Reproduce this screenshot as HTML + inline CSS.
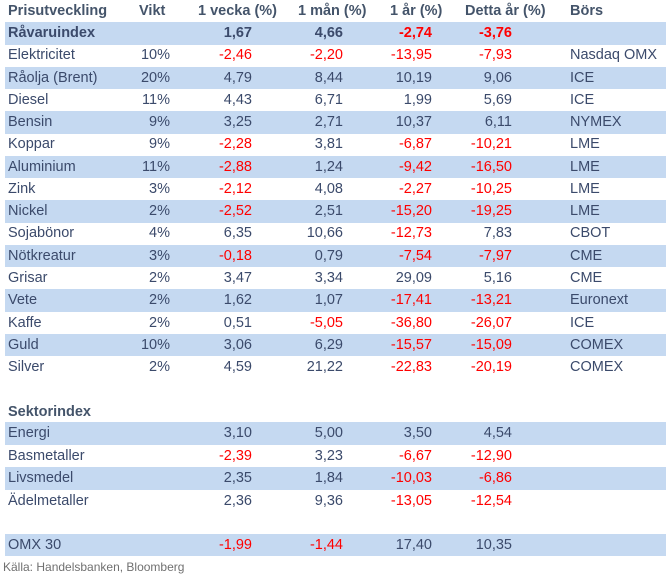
<!DOCTYPE html>
<html><head><meta charset="utf-8"><style>
body{margin:0;width:666px;height:579px;background:#fff;position:relative;overflow:hidden;font-family:"Liberation Sans",sans-serif;font-size:14.5px;color:#3b4a6b}
.r{position:absolute;left:5px;width:661px;height:22.5px;line-height:22px}
.b{background:#c5d9f1}
.r span{position:absolute;top:0;white-space:nowrap}
.n{left:3px}.w{right:496px}.v{right:414px}.m{right:323px}.y{right:234px}.d{right:154px}.x{left:565px}
.h{font-weight:bold;color:#44546a}
.h span{font-weight:bold}
.t{font-weight:bold}
.red{color:#ff0000}
.src{position:absolute;left:3px;top:560px;font-size:12px;color:#707070}
</style></head><body>
<div class="r h" style="top:0"><span class="n">Prisutveckling</span><span style="left:134px">Vikt</span><span style="left:193px">1 vecka (%)</span><span style="left:293px">1 mån (%)</span><span style="left:385px">1 år (%)</span><span style="left:460px">Detta år (%)</span><span class="x">Börs</span></div>
<div class="r b t" style="top:22px"><span class="n">Råvaruindex</span><span class="v">1,67</span><span class="m">4,66</span><span class="y red">-2,74</span><span class="d red">-3,76</span></div>
<div class="r" style="top:44.3px"><span class="n">Elektricitet</span><span class="w">10%</span><span class="v red">-2,46</span><span class="m red">-2,20</span><span class="y red">-13,95</span><span class="d red">-7,93</span><span class="x">Nasdaq OMX</span></div>
<div class="r b" style="top:66.5px"><span class="n">Råolja (Brent)</span><span class="w">20%</span><span class="v">4,79</span><span class="m">8,44</span><span class="y">10,19</span><span class="d">9,06</span><span class="x">ICE</span></div>
<div class="r" style="top:88.8px"><span class="n">Diesel</span><span class="w">11%</span><span class="v">4,43</span><span class="m">6,71</span><span class="y">1,99</span><span class="d">5,69</span><span class="x">ICE</span></div>
<div class="r b" style="top:111.1px"><span class="n">Bensin</span><span class="w">9%</span><span class="v">3,25</span><span class="m">2,71</span><span class="y">10,37</span><span class="d">6,11</span><span class="x">NYMEX</span></div>
<div class="r" style="top:133.4px"><span class="n">Koppar</span><span class="w">9%</span><span class="v red">-2,28</span><span class="m">3,81</span><span class="y red">-6,87</span><span class="d red">-10,21</span><span class="x">LME</span></div>
<div class="r b" style="top:155.6px"><span class="n">Aluminium</span><span class="w">11%</span><span class="v red">-2,88</span><span class="m">1,24</span><span class="y red">-9,42</span><span class="d red">-16,50</span><span class="x">LME</span></div>
<div class="r" style="top:177.9px"><span class="n">Zink</span><span class="w">3%</span><span class="v red">-2,12</span><span class="m">4,08</span><span class="y red">-2,27</span><span class="d red">-10,25</span><span class="x">LME</span></div>
<div class="r b" style="top:200.2px"><span class="n">Nickel</span><span class="w">2%</span><span class="v red">-2,52</span><span class="m">2,51</span><span class="y red">-15,20</span><span class="d red">-19,25</span><span class="x">LME</span></div>
<div class="r" style="top:222.4px"><span class="n">Sojabönor</span><span class="w">4%</span><span class="v">6,35</span><span class="m">10,66</span><span class="y red">-12,73</span><span class="d">7,83</span><span class="x">CBOT</span></div>
<div class="r b" style="top:244.7px"><span class="n">Nötkreatur</span><span class="w">3%</span><span class="v red">-0,18</span><span class="m">0,79</span><span class="y red">-7,54</span><span class="d red">-7,97</span><span class="x">CME</span></div>
<div class="r" style="top:267px"><span class="n">Grisar</span><span class="w">2%</span><span class="v">3,47</span><span class="m">3,34</span><span class="y">29,09</span><span class="d">5,16</span><span class="x">CME</span></div>
<div class="r b" style="top:289.3px"><span class="n">Vete</span><span class="w">2%</span><span class="v">1,62</span><span class="m">1,07</span><span class="y red">-17,41</span><span class="d red">-13,21</span><span class="x">Euronext</span></div>
<div class="r" style="top:311.5px"><span class="n">Kaffe</span><span class="w">2%</span><span class="v">0,51</span><span class="m red">-5,05</span><span class="y red">-36,80</span><span class="d red">-26,07</span><span class="x">ICE</span></div>
<div class="r b" style="top:333.8px"><span class="n">Guld</span><span class="w">10%</span><span class="v">3,06</span><span class="m">6,29</span><span class="y red">-15,57</span><span class="d red">-15,09</span><span class="x">COMEX</span></div>
<div class="r" style="top:356.1px"><span class="n">Silver</span><span class="w">2%</span><span class="v">4,59</span><span class="m">21,22</span><span class="y red">-22,83</span><span class="d red">-20,19</span><span class="x">COMEX</span></div>
<div class="r h" style="top:400.6px"><span class="n">Sektorindex</span></div>
<div class="r b" style="top:422.4px"><span class="n">Energi</span><span class="v">3,10</span><span class="m">5,00</span><span class="y">3,50</span><span class="d">4,54</span></div>
<div class="r" style="top:444.9px"><span class="n">Basmetaller</span><span class="v red">-2,39</span><span class="m">3,23</span><span class="y red">-6,67</span><span class="d red">-12,90</span></div>
<div class="r b" style="top:467.2px"><span class="n">Livsmedel</span><span class="v">2,35</span><span class="m">1,84</span><span class="y red">-10,03</span><span class="d red">-6,86</span></div>
<div class="r" style="top:489.5px"><span class="n">Ädelmetaller</span><span class="v">2,36</span><span class="m">9,36</span><span class="y red">-13,05</span><span class="d red">-12,54</span></div>
<div class="r b" style="top:533.5px"><span class="n">OMX 30</span><span class="v red">-1,99</span><span class="m red">-1,44</span><span class="y">17,40</span><span class="d">10,35</span></div>
<div class="src">Källa: Handelsbanken, Bloomberg</div>
</body></html>
